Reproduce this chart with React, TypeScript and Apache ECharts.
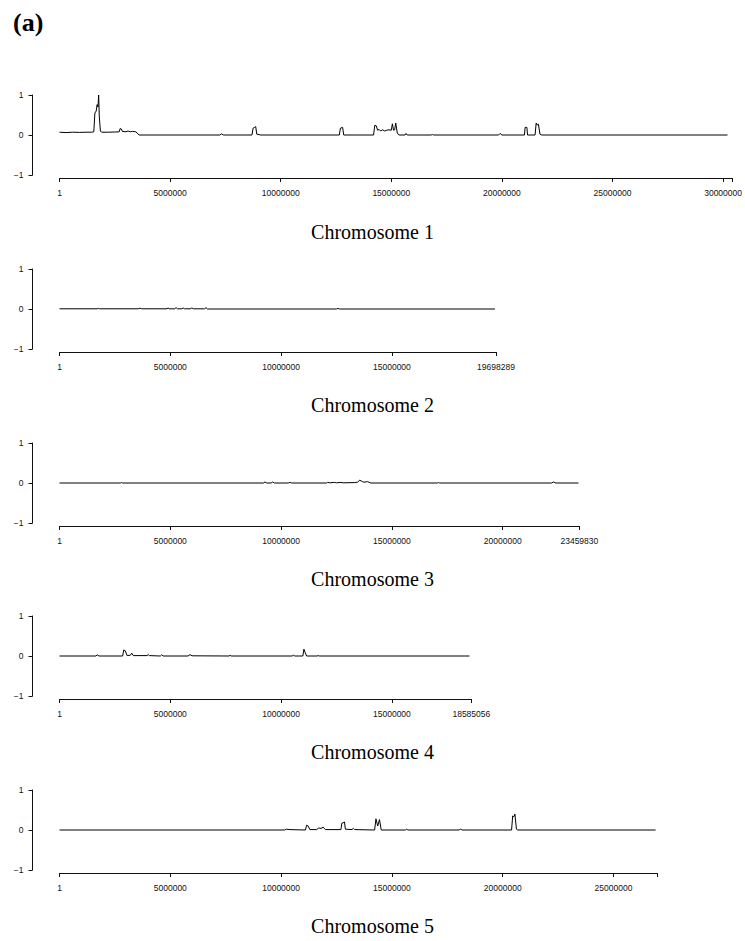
import React, { useEffect, useRef } from "react";
import * as echarts from "echarts";

// Chromosome lengths (bp)
const chromLengths = [30427671, 19698289, 23459830, 18585056, 26975502];
const chromTitles = ["Chromosome 1", "Chromosome 2", "Chromosome 3", "Chromosome 4", "Chromosome 5"];
const panelLabel = "(a)";
const yTicks = [-1, 0, 1];

// Positions in Mb
const chr1Pos = [0, 0.3, 0.6, 0.9, 1.2, 1.45, 1.55, 1.6, 1.66, 1.7, 1.74, 1.77, 1.8, 1.85, 1.9, 2.2, 2.5, 2.7, 2.74, 2.8, 2.84, 3.0, 3.1, 3.2, 3.3, 3.45, 3.6, 7.25, 7.33, 7.4, 8.7, 8.75, 8.82, 8.87, 8.92, 9.1, 12.65, 12.7, 12.8, 12.85, 14.2, 14.25, 14.32, 14.38, 14.45, 14.52, 14.6, 14.7, 14.8, 14.9, 15.0, 15.05, 15.1, 15.15, 15.2, 15.27, 15.35, 15.62, 15.67, 15.72, 16.8, 16.86, 16.92, 19.85, 19.92, 20.0, 21.02, 21.05, 21.13, 21.16, 21.5, 21.55, 21.6, 21.65, 21.72, 21.8, 30.2];
const chr1Val = [0.07, 0.06, 0.07, 0.065, 0.07, 0.07, 0.08, 0.55, 0.6, 0.76, 0.7, 1.0, 0.45, 0.1, 0.07, 0.07, 0.075, 0.08, 0.16, 0.15, 0.09, 0.08, 0.1, 0.08, 0.09, 0.08, 0.0, 0.0, 0.03, 0.0, 0.0, 0.17, 0.19, 0.21, 0.02, 0.0, 0.0, 0.17, 0.19, 0.0, 0.0, 0.24, 0.23, 0.12, 0.14, 0.1, 0.13, 0.1, 0.12, 0.13, 0.12, 0.28, 0.12, 0.13, 0.3, 0.05, 0.0, 0.0, 0.04, 0.0, 0.0, 0.01, 0.0, 0.0, 0.04, 0.0, 0.0, 0.19, 0.19, 0.0, 0.0, 0.3, 0.25, 0.27, 0.02, 0.0, 0.0];

const chr2Pos = [0, 1.7, 1.75, 1.8, 3.55, 3.63, 3.7, 4.85, 4.9, 4.95, 5.2, 5.26, 5.32, 5.52, 5.58, 5.64, 5.9, 5.97, 6.04, 6.55, 6.61, 6.68, 12.5, 12.57, 12.64, 19.65];
const chr2Val = [0.005, 0.005, 0.015, 0.005, 0.005, 0.02, 0.005, 0.005, 0.025, 0.005, 0.005, 0.035, 0.005, 0.005, 0.025, 0.005, 0.005, 0.025, 0.005, 0.005, 0.035, 0.0, 0.0, 0.015, 0.0, 0.0];

const chr3Pos = [0, 2.75, 2.8, 2.85, 9.2, 9.27, 9.35, 9.55, 9.62, 9.7, 10.33, 10.4, 10.47, 12.05, 12.1, 12.2, 12.4, 12.5, 12.7, 12.8, 13.3, 13.45, 13.55, 13.68, 13.75, 13.9, 14.05, 17.05, 17.1, 17.15, 22.2, 22.3, 22.4, 23.42];
const chr3Val = [0, 0, 0.01, 0, 0, 0.025, 0, 0, 0.025, 0, 0, 0.015, 0, 0, 0.015, 0.005, 0.015, 0.005, 0.015, 0.005, 0.01, 0.02, 0.07, 0.03, 0.02, 0.035, 0, 0, 0.01, 0, 0, 0.025, 0, 0];

const chr4Pos = [0, 1.65, 1.7, 1.78, 2.85, 2.9, 2.97, 3.05, 3.2, 3.26, 3.33, 3.95, 4.0, 4.06, 4.55, 4.61, 4.67, 5.8, 5.89, 5.98, 7.65, 7.7, 7.75, 10.5, 10.55, 10.62, 10.98, 11.03, 11.09, 11.15, 11.62, 11.67, 11.72, 18.5];
const chr4Val = [0, 0, 0.03, 0, 0, 0.15, 0.13, 0.01, 0.02, 0.07, 0.01, 0.01, 0.035, 0.01, 0, 0.03, 0, 0, 0.035, 0.005, 0, 0.015, 0, 0, 0.02, 0, 0, 0.17, 0.08, 0, 0, 0.01, 0, 0];

const chr5Pos = [0, 10.15, 10.25, 10.4, 11.1, 11.15, 11.22, 11.3, 11.6, 11.7, 11.8, 11.9, 12.0, 12.7, 12.74, 12.8, 12.86, 12.9, 13.2, 13.26, 13.32, 14.22, 14.28, 14.36, 14.44, 14.52, 15.62, 15.67, 15.72, 18.05, 18.1, 18.15, 20.4, 20.45, 20.5, 20.55, 20.62, 20.68, 26.9];
const chr5Val = [0, 0, 0.02, 0.01, 0.0, 0.12, 0.1, 0.01, 0.01, 0.05, 0.04, 0.07, 0.01, 0.01, 0.17, 0.18, 0.2, 0.02, 0.01, 0.04, 0.01, 0.0, 0.28, 0.1, 0.26, 0.0, 0, 0.02, 0, 0, 0.03, 0, 0, 0.35, 0.33, 0.4, 0.02, 0, 0];

const positions = [chr1Pos, chr2Pos, chr3Pos, chr4Pos, chr5Pos];
const values = [chr1Val, chr2Val, chr3Val, chr4Val, chr5Val];

const X_TICK_STEP = 5000000;
const PX_PER_BP = 22.16 / 1e6;
const PANEL_TOPS = [95, 269, 443, 616, 790];
const TITLE_Y = [232, 405, 579, 752, 926];

export default function App() {
  const ref = useRef<HTMLDivElement>(null);
  useEffect(() => {
    if (!ref.current) return;
    const chart = echarts.init(ref.current, null, { renderer: "svg" });
    const grids: any[] = [];
    const xAxes: any[] = [];
    const yAxes: any[] = [];
    const series: any[] = [];
    const graphics: any[] = [];
    chromLengths.forEach((len, i) => {
      grids.push({ left: 59.5, top: PANEL_TOPS[i], height: 80, width: len * PX_PER_BP, containLabel: false });
      const rem = len - Math.floor(len / X_TICK_STEP) * X_TICK_STEP;
      xAxes.push({
        type: "value",
        gridIndex: i,
        position: "bottom",
        min: 0,
        max: len,
        interval: X_TICK_STEP,
        offset: 3,
        axisLine: { show: true, onZero: false, lineStyle: { color: "#111", width: 1 } },
        axisTick: { show: true, length: 4, lineStyle: { color: "#111", width: 1 } },
        splitLine: { show: false },
        axisLabel: {
          fontSize: 8.5,
          fontFamily: "Liberation Sans, Arial, sans-serif",
          color: "#111",
          margin: 10,
          showMinLabel: true,
          showMaxLabel: true,
          hideOverlap: false,
          formatter: (v: number) => {
            if (v === 0) return "1";
            if (v === len) return rem < 3000000 ? "" : String(len);
            return String(v);
          },
        },
      });
      yAxes.push({
        type: "value",
        gridIndex: i,
        position: "left",
        min: yTicks[0],
        max: yTicks[yTicks.length - 1],
        interval: 1,
        offset: 27,
        axisLine: { show: true, onZero: false, lineStyle: { color: "#111", width: 1 } },
        axisTick: { show: true, length: 4, lineStyle: { color: "#111", width: 1 } },
        splitLine: { show: false },
        axisLabel: {
          fontSize: 8.5,
          fontFamily: "Liberation Sans, Arial, sans-serif",
          color: "#111",
          margin: 9,
          formatter: (v: number) => (v < 0 ? "\u2212" + Math.abs(v) : String(v)),
        },
      });
      series.push({
        type: "line",
        xAxisIndex: i,
        yAxisIndex: i,
        showSymbol: false,
        symbol: "none",
        lineStyle: { color: "#000", width: 1 },
        data: positions[i].map((p, k) => [p * 1e6, values[i][k]]),
      });
      graphics.push({
        type: "text",
        x: 372.5,
        y: TITLE_Y[i],
        style: {
          text: chromTitles[i],
          font: "20px 'Liberation Serif', 'Times New Roman', serif",
          fill: "#000",
          textAlign: "center",
          textVerticalAlign: "middle",
        },
      });
    });
    graphics.push({
      type: "text",
      x: 13,
      y: 22,
      style: {
        text: panelLabel,
        font: "bold 26px 'Liberation Serif', 'Times New Roman', serif",
        fill: "#000",
        textAlign: "left",
        textVerticalAlign: "middle",
      },
    });
    chart.setOption({
      animation: false,
      backgroundColor: "#fff",
      grid: grids,
      xAxis: xAxes,
      yAxis: yAxes,
      series,
      graphic: graphics,
    });
    return () => chart.dispose();
  }, []);
  return <div ref={ref} style={{ position: "absolute", left: 0, top: 0, width: 745, height: 941 }} />;
}
